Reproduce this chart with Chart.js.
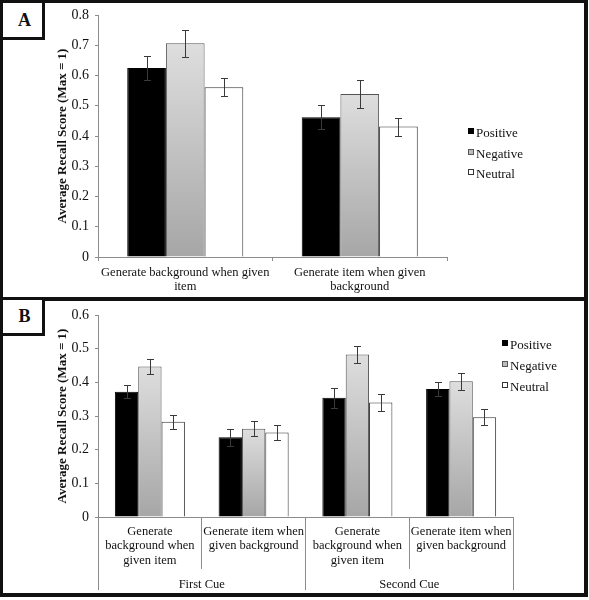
<!DOCTYPE html>
<html><head><meta charset="utf-8">
<script src="https://cdn.jsdelivr.net/npm/chart.js@4.4.1/dist/chart.umd.min.js"></script>
<style>
html,body{margin:0;padding:0;background:#fff;}
body{width:589px;height:600px;position:relative;overflow:hidden;font-family:"Liberation Serif","Times New Roman",serif;color:#111;}
canvas{position:absolute;left:0;}
.panel{position:absolute;left:0;width:588px;border:3px solid #111;border-right-width:4px;box-sizing:border-box;pointer-events:none;}
.tag{position:absolute;left:0;width:45px;height:40px;border:3px solid #111;box-sizing:border-box;font-weight:bold;font-size:18px;display:flex;align-items:center;justify-content:center;padding-left:4px;background:#fff;}
.lg{position:absolute;font-size:13px;line-height:16px;white-space:nowrap;color:#111;}
.sw{position:absolute;width:6px;height:6px;box-sizing:border-box;}
</style></head><body>
<canvas id="cA" width="589" height="300" style="top:0"></canvas>
<canvas id="cB" width="589" height="300" style="top:300px"></canvas>
<div class="panel" style="top:0;height:301px"></div>
<div class="panel" style="top:297px;height:300px;border-bottom-width:4px"></div>
<div class="tag" style="top:0">A</div>
<div class="tag" style="top:297px;height:39px">B</div>
<div id="legA"></div><div id="legB"></div>
<script>
// ---------- data ----------
const seriesNames = ['Positive', 'Negative', 'Neutral'];

const categoriesA = [['Generate background when given', 'item'], ['Generate item when given', 'background']];
const positiveA = [0.625, 0.462];
const negativeA = [0.707, 0.539];
const neutralA  = [0.561, 0.431];
const positiveErrA = [0.040, 0.040];
const negativeErrA = [0.045, 0.045];
const neutralErrA  = [0.030, 0.030];
const yMaxA = 0.8;

const categoriesB = [
  ['Generate', 'background when', 'given item'],
  ['Generate item when', 'given background'],
  ['Generate', 'background when', 'given item'],
  ['Generate item when', 'given background']
];
const groupsB = ['First Cue', 'Second Cue'];
const positiveB = [0.372, 0.237, 0.354, 0.380];
const negativeB = [0.447, 0.262, 0.483, 0.403];
const neutralB  = [0.283, 0.251, 0.340, 0.296];
const positiveErrB = [0.020, 0.025, 0.030, 0.022];
const negativeErrB = [0.023, 0.022, 0.025, 0.026];
const neutralErrB  = [0.021, 0.023, 0.026, 0.024];
const yMaxB = 0.6;

const yTitle = 'Average Recall Score (Max = 1)';
const tickStep = 0.1;

// ---------- styling ----------
const FONT = '"Liberation Serif", "Times New Roman", serif';
const AXIS = '#8c8c8c';
const TXT = '#111';

function grayGradient(ctx) {
  const chart = ctx.chart;
  if (!chart.chartArea || ctx.raw === undefined) return '#c4c4c4';
  const y = chart.scales.y;
  const top = y.getPixelForValue(ctx.raw);
  const bot = y.getPixelForValue(0);
  const g = chart.ctx.createLinearGradient(0, top, 0, bot);
  g.addColorStop(0, '#dedede');
  g.addColorStop(1, '#a6a6a6');
  return g;
}
const seriesStyle = [
  {backgroundColor: '#000', borderColor: '#000'},
  {backgroundColor: grayGradient, borderColor: '#555'},
  {backgroundColor: '#fff', borderColor: '#333'}
];

const errorBars = {
  id: 'errorBars',
  afterDatasetsDraw(chart) {
    const ctx = chart.ctx, y = chart.scales.y;
    ctx.save();
    ctx.strokeStyle = '#3a3a3a';
    ctx.lineWidth = 1;
    chart.data.datasets.forEach((ds, i) => {
      const meta = chart.getDatasetMeta(i);
      meta.data.forEach((bar, j) => {
        const v = ds.data[j], e = ds.errors[j];
        const yt = Math.round(y.getPixelForValue(v + e)) + 0.5;
        const yb = Math.round(y.getPixelForValue(v - e)) + 0.5;
        const x = Math.round(bar.x) + 0.5;
        ctx.beginPath();
        ctx.moveTo(x, yt); ctx.lineTo(x, yb);
        ctx.moveTo(x - 3.5, yt); ctx.lineTo(x + 3.5, yt);
        ctx.moveTo(x - 3.5, yb); ctx.lineTo(x + 3.5, yb);
        ctx.stroke();
      });
    });
    ctx.restore();
  }
};

function makeDatasets(values, errors, pct) {
  return values.map((vals, i) => Object.assign({
    label: seriesNames[i],
    data: vals,
    errors: errors[i],
    borderWidth: 1,
    categoryPercentage: pct,
    barPercentage: 1.0
  }, seriesStyle[i]));
}

function yScale(max) {
  return {
    min: 0, max: max,
    ticks: {stepSize: tickStep, padding: 6, color: TXT, font: {family: FONT, size: 14}},
    grid: {display: true, drawOnChartArea: false, tickLength: 3, color: AXIS},
    border: {display: true, color: AXIS},
    title: {display: true, text: yTitle, color: TXT,
            font: {family: FONT, size: 13, weight: 'bold'}, padding: {top: 55, bottom: 0}},
    afterFit(s) { s.width = 98; s.paddingTop = 0; s.paddingBottom = 0; }
  };
}

Chart.defaults.font.family = FONT;

// ---------- Panel A ----------
new Chart(document.getElementById('cA'), {
  type: 'bar',
  data: {
    labels: categoriesA,
    datasets: makeDatasets([positiveA, negativeA, neutralA], [positiveErrA, negativeErrA, neutralErrA], 0.665)
  },
  options: {
    responsive: false, animation: false, devicePixelRatio: 1,
    layout: {padding: {left: 0, top: 15, right: 142, bottom: 0}},
    plugins: {legend: {display: false}, tooltip: {enabled: false}},
    scales: {
      x: {
        ticks: {color: TXT, padding: 5, minRotation: 0, maxRotation: 0, autoSkip: false,
                font: {family: FONT, size: 12.5, lineHeight: 1.1}},
        grid: {display: true, drawOnChartArea: false, tickLength: 4, color: AXIS, offset: true},
        border: {display: true, color: AXIS},
        afterFit(s) { s.height = 43; s.paddingLeft = 0; s.paddingRight = 0; }
      },
      y: yScale(yMaxA)
    }
  },
  plugins: [errorBars]
});

// ---------- Panel B ----------
new Chart(document.getElementById('cB'), {
  type: 'bar',
  data: {
    labels: categoriesB,
    datasets: makeDatasets([positiveB, negativeB, neutralB], [positiveErrB, negativeErrB, neutralErrB], 0.675)
  },
  options: {
    responsive: false, animation: false, devicePixelRatio: 1,
    layout: {padding: {left: 0, top: 15, right: 76, bottom: 0}},
    plugins: {legend: {display: false}, tooltip: {enabled: false}},
    scales: {
      x: {
        weight: 1,
        ticks: {color: TXT, padding: -44.5, minRotation: 0, maxRotation: 0, autoSkip: false,
                font: {family: FONT, size: 12.5, lineHeight: 1.15}},
        grid: {display: true, drawOnChartArea: false, tickLength: 52, color: AXIS, offset: true},
        border: {display: true, color: AXIS},
        afterFit(s) { s.height = 52; s.paddingLeft = 0; s.paddingRight = 0; }
      },
      x2: {
        type: 'category', axis: 'x', position: 'bottom', weight: 2,
        labels: groupsB, offset: true,
        ticks: {color: TXT, padding: -12, minRotation: 0, maxRotation: 0, autoSkip: false,
                font: {family: FONT, size: 12.5, lineHeight: 1.15}},
        grid: {display: true, drawOnChartArea: false, tickLength: 21, color: AXIS, offset: true},
        border: {display: false},
        afterFit(s) { s.height = 31; s.paddingLeft = 0; s.paddingRight = 0; }
      },
      y: yScale(yMaxB)
    }
  },
  plugins: [errorBars]
});

// ---------- HTML legends ----------
const swatchCss = [
  'background:#000;',
  'background:#bdbdbd;border:1px solid #555;',
  'background:#fff;border:1px solid #333;'
];
function buildLegend(el, swX, txtX, rowsY) {
  let html = '';
  seriesNames.forEach((name, i) => {
    const cy = rowsY[i];
    html += '<div class="sw" style="left:' + swX + 'px;top:' + (cy - 5) + 'px;' + swatchCss[i] + '"></div>';
    html += '<div class="lg" style="left:' + txtX + 'px;top:' + (cy - 8) + 'px">' + name + '</div>';
  });
  el.innerHTML = html;
}
buildLegend(document.getElementById('legA'), 468, 476, [133, 153.5, 174]);
buildLegend(document.getElementById('legB'), 502, 510, [345, 366, 387]);
</script>
</body></html>
